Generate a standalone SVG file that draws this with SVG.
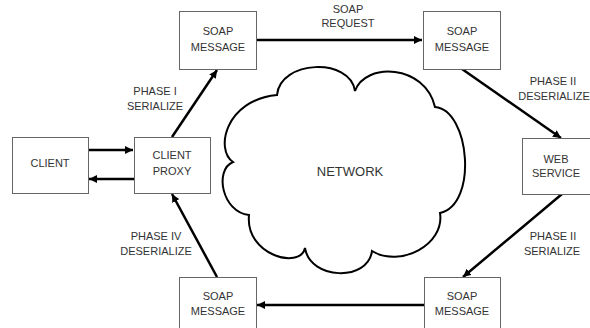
<svg xmlns="http://www.w3.org/2000/svg" width="590" height="328" viewBox="0 0 590 328">
<style>
.box{fill:#fff;stroke:#666;stroke-width:1}
.t{font-family:"Liberation Sans",Arial,sans-serif;font-size:11px;fill:#333;text-anchor:middle}
.c{stroke:#000;stroke-width:2.5;fill:none;marker-end:url(#ah)}
</style>
<defs>
<marker id="ah" markerUnits="userSpaceOnUse" markerWidth="10" markerHeight="8" refX="8" refY="4" orient="auto">
<path d="M0,0 L8,4 L0,8 Z" fill="#000"/>
</marker>
</defs>
<rect width="590" height="328" fill="#fff"/>
<g id="cloud">
<path d="M277,95 C280,60 350,57 355,91 C365,62 425,64 435,107 C470,110 478,205 440,213 C445,245 400,268 372,251 C368,282 310,280 305,248 C300,270 245,255 249,215 C222,212 214,170 233,162 C215,150 225,100 277,95 Z" fill="#fff" stroke="#000" stroke-width="2"/>
<text class="t" x="350" y="176" style="font-size:13px">NETWORK</text>
</g>
<g id="connectors">
<line class="c" x1="256" y1="40" x2="422" y2="40"/>
<line class="c" x1="462" y1="69" x2="561" y2="138"/>
<line class="c" x1="562" y1="194" x2="463" y2="277"/>
<line class="c" x1="424" y1="305" x2="257" y2="305"/>
<line class="c" x1="217" y1="277" x2="172" y2="194"/>
<line class="c" x1="172" y1="137" x2="217" y2="70"/>
<line class="c" x1="88" y1="150" x2="133" y2="150"/>
<line class="c" x1="134" y1="179" x2="89" y2="179"/>
<text class="t" x="348" y="13">SOAP</text>
<text class="t" x="348" y="27">REQUEST</text>
<text class="t" x="155" y="95">PHASE I</text>
<text class="t" x="155" y="110">SERIALIZE</text>
<text class="t" x="156" y="240">PHASE IV</text>
<text class="t" x="156" y="255">DESERIALIZE</text>
<text class="t" x="553" y="85">PHASE II</text>
<text class="t" x="554" y="100">DESERIALIZE</text>
<text class="t" x="553" y="240">PHASE II</text>
<text class="t" x="552" y="255">SERIALIZE</text>
</g>
<g id="soap-tl">
<rect class="box" x="179.5" y="11.5" width="77" height="58"/>
<text class="t" x="218" y="35">SOAP</text>
<text class="t" x="218" y="51">MESSAGE</text>
</g>
<g id="soap-tr">
<rect class="box" x="423.5" y="11.5" width="77" height="58"/>
<text class="t" x="462" y="35">SOAP</text>
<text class="t" x="462" y="51">MESSAGE</text>
</g>
<g id="client">
<rect class="box" x="12.5" y="137.5" width="76" height="56"/>
<text class="t" x="50" y="167">CLIENT</text>
</g>
<g id="client-proxy">
<rect class="box" x="134.5" y="137.5" width="76" height="56"/>
<text class="t" x="172" y="159">CLIENT</text>
<text class="t" x="172" y="175">PROXY</text>
</g>
<g id="web-service">
<rect class="box" x="522.5" y="138.5" width="70" height="56"/>
<text class="t" x="556" y="163">WEB</text>
<text class="t" x="556" y="177">SERVICE</text>
</g>
<g id="soap-bl">
<rect class="box" x="179.5" y="277.5" width="77" height="60"/>
<text class="t" x="218" y="300">SOAP</text>
<text class="t" x="218" y="315">MESSAGE</text>
</g>
<g id="soap-br">
<rect class="box" x="424.5" y="277.5" width="76" height="60"/>
<text class="t" x="462" y="300">SOAP</text>
<text class="t" x="462" y="315">MESSAGE</text>
</g>
</svg>
